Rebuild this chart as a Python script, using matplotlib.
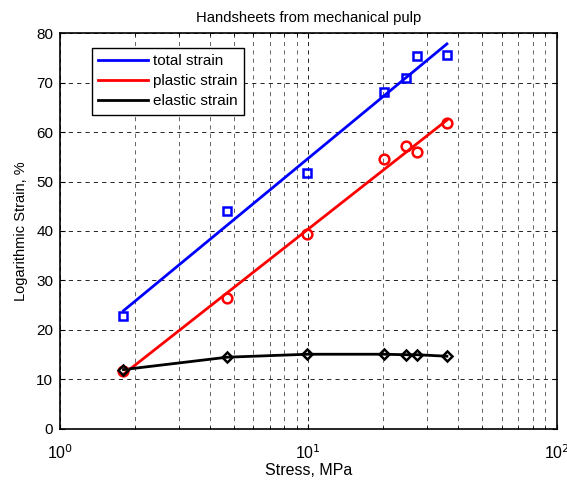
import numpy as np
import matplotlib.pyplot as plt
from matplotlib.ticker import LogLocator, FixedLocator

plt.rcParams['font.family'] = ['Liberation Sans', 'DejaVu Sans']
plt.rcParams['font.size'] = 10.5

# data
stress = [1.8, 4.7, 9.9, 20.1, 24.7, 27.3, 36.1]
total_strain = [22.8, 44.0, 51.7, 68.0, 71.0, 75.3, 75.6]
plastic_strain = [11.7, 26.5, 39.3, 54.6, 57.2, 56.0, 61.8]
elastic_strain = [12.0, 14.5, 15.1, 15.1, 15.0, 15.0, 14.7]

fig = plt.figure(figsize=(5.67, 4.82), dpi=100)
ax = fig.add_axes([0.106, 0.110, 0.876, 0.8215])

lx = np.log10(stress)
xs = np.array([stress[0], stress[-1]])

# log fits for total and plastic strain
p_tot = np.polyfit(lx, total_strain, 1)
p_pl = np.polyfit(lx, plastic_strain, 1)

ax.plot(xs, np.polyval(p_tot, np.log10(xs)), color='blue', lw=2, label='total strain')
ax.plot(xs, np.polyval(p_pl, np.log10(xs)), color='red', lw=2, label='plastic strain')
ax.plot(stress, elastic_strain, color='black', lw=2, label='elastic strain')

ax.plot(stress, total_strain, 's', color='blue', mfc='none', mew=1.8, ms=6)
ax.plot(stress, plastic_strain, 'o', color='red', mfc='none', mew=1.8, ms=7)
ax.plot(stress, elastic_strain, 'D', color='black', mfc='none', mew=1.8, ms=5.5)

ax.set_xscale('log')
ax.set_xlim(1, 100)
ax.set_ylim(0, 80)
ax.set_yticks(range(0, 81, 10))
ax.xaxis.set_major_locator(FixedLocator([1, 10, 100]))
ax.xaxis.set_minor_locator(LogLocator(base=10, subs=np.arange(2, 10)))
ax.set_xticklabels(['10$^{0}$', '10$^{1}$', '10$^{2}$'])
ax.tick_params(which='both', direction='in', top=True, right=True)
ax.tick_params(axis='x', labelsize=11.5, pad=10)
ax.tick_params(axis='y', labelsize=11, pad=5)

ax.grid(True, which='major', color='black', ls=(0, (5, 5)), lw=0.6)
ax.grid(True, which='minor', axis='x', color='black', ls=(0, (5, 5)), lw=0.6, alpha=0.7)

for s in ax.spines.values():
    s.set_linewidth(1.2)

ax.set_title('Handsheets from mechanical pulp', fontsize=10.7, pad=8)
ax.set_xlabel('Stress, MPa', fontsize=11.5, labelpad=1)
ax.set_ylabel('Logarithmic Strain, %', fontsize=10.5, labelpad=6)

leg = ax.legend(loc='upper left', bbox_to_anchor=(0.064, 0.962), fancybox=False,
                edgecolor='black', framealpha=1, fontsize=11, borderpad=0.4,
                labelspacing=0.4, handlelength=3.3, handletextpad=0.3,
                borderaxespad=0)
leg.get_frame().set_linewidth(1.0)

fig.savefig('out.png', dpi=100)
